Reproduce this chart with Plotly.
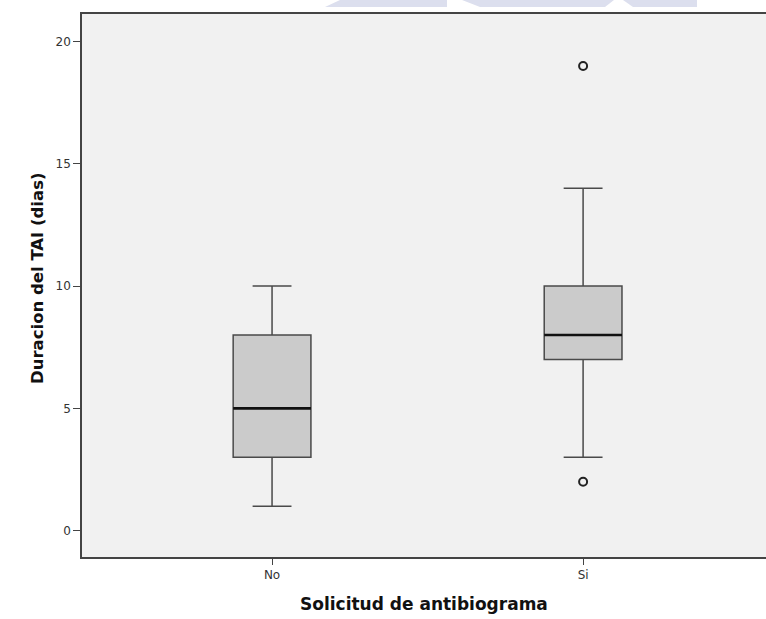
import plotly.graph_objects as go

# Summary statistics of treatment duration (days) by antibiogram request
categories = ["No", "Si"]
cat_pos = [0, 1]
lower_fence = [1, 3]
q1 = [3, 7]
median = [5, 8]
q3 = [8, 10]
upper_fence = [10, 14]

# Outliers (category index, value)
outlier_cat = [1, 1]
outlier_val = [19, 2]

y_ticks = [0, 5, 10, 15, 20]

BOX_W = 0.25
FONT = "DejaVu Sans"

fig = go.Figure()

for i, name in enumerate(categories):
    fig.add_trace(go.Box(
        x=[cat_pos[i]],
        q1=[q1[i]], median=[median[i]], q3=[q3[i]],
        lowerfence=[lower_fence[i]], upperfence=[upper_fence[i]],
        width=BOX_W, whiskerwidth=0.5,
        fillcolor="#cbcbcb",
        line=dict(color="#4a4a4a", width=1.5),
        boxpoints=False, showlegend=False, hoverinfo="skip",
        name=name,
    ))
    # heavier median stroke
    fig.add_trace(go.Scatter(
        x=[cat_pos[i] - BOX_W / 2, cat_pos[i] + BOX_W / 2],
        y=[median[i], median[i]],
        mode="lines", line=dict(color="#111111", width=2.6),
        showlegend=False, hoverinfo="skip",
    ))

fig.add_trace(go.Scatter(
    x=outlier_cat, y=outlier_val, mode="markers",
    marker=dict(symbol="circle-open", size=8, color="#222222",
                line=dict(width=2, color="#222222")),
    showlegend=False, hoverinfo="skip",
))

# Faint letterhead band above the chart (pixel polygons -> paper coords)
L, R, T, B = 82, 766, 14, 557
def px(x):
    return (x - L) / (R - L)
def py(y):
    return (B - y) / (B - T)

band = [
    [(340, 0), (447, 0), (447, 7), (325, 7)],
    [(462, 0), (614, 0), (605, 7), (480, 7)],
    [(623, 0), (697, 0), (697, 7), (633, 7)],
]
for poly in band:
    path = "M " + " L ".join(f"{px(x):.4f},{py(y):.4f}" for x, y in poly) + " Z"
    fig.add_shape(type="path", path=path, xref="paper", yref="paper",
                  fillcolor="#dcdfee", line=dict(width=0), layer="below")

# Axis titles
fig.add_annotation(text="<b>Solicitud de antibiograma</b>", xref="paper", yref="paper",
                   x=0.5, y=py(604), showarrow=False, xanchor="center", yanchor="middle",
                   font=dict(size=17, color="#111111", family=FONT))
fig.add_annotation(text="<b>Duracion del TAI (dias)</b>", xref="paper", yref="paper",
                   x=px(37), y=py(278), showarrow=False, textangle=-90,
                   xanchor="center", yanchor="middle",
                   font=dict(size=16.5, color="#111111", family=FONT))

fig.update_layout(
    width=766, height=619,
    margin=dict(l=L, r=0, t=T, b=619 - B),
    paper_bgcolor="white", plot_bgcolor="#f1f1f1",
    font=dict(family=FONT, color="#333333", size=12),
    xaxis=dict(
        range=[-0.611, 1.588],
        tickmode="array", tickvals=cat_pos, ticktext=categories,
        showgrid=False, zeroline=False,
        showline=True, linecolor="#444444", linewidth=1.6, mirror=True,
        ticks="outside", ticklen=6, tickcolor="#444444", tickwidth=1.2,
        tickfont=dict(size=12, color="#333333"),
        automargin=False,
    ),
    yaxis=dict(
        range=[-1.08, 21.13],
        tickmode="array", tickvals=y_ticks,
        showgrid=False, zeroline=False,
        showline=True, linecolor="#444444", linewidth=1.6,
        ticks="outside", ticklen=7, tickcolor="#444444", tickwidth=1.2,
        tickfont=dict(size=12, color="#333333"),
        automargin=False,
    ),
)

fig.write_html("out.html")
